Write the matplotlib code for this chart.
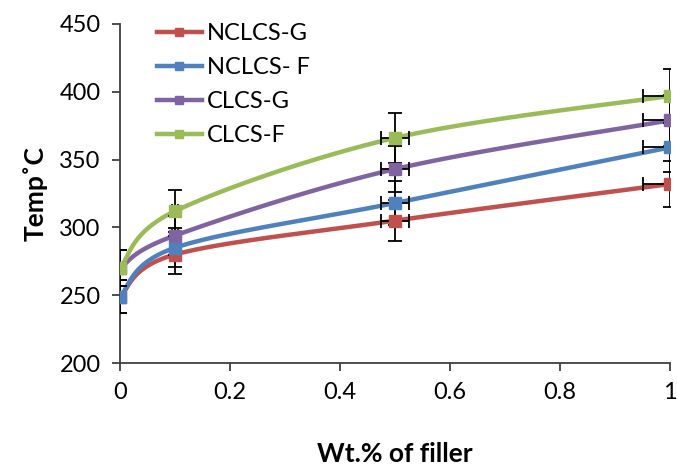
import matplotlib.pyplot as plt
import numpy as np

# Data
filler = [0, 0.1, 0.5, 1.0]
nclcs_g = [249, 280, 305, 332]
nclcs_f = [249, 285, 318, 359]
clcs_g = [270, 294, 343, 379]
clcs_f = [270, 312, 366, 397]

names = ['NCLCS-G', 'NCLCS- F', 'CLCS-G', 'CLCS-F']
colors = ['#C0504D', '#4F81BD', '#8064A2', '#9BBB59']

# error bars are 5 % of the value (both axes)
err_pct = 0.05

plt.rcParams['font.family'] = ['Lato', 'DejaVu Sans']


def smooth(x, y, n=40):
    # Excel-style smoothed line (Catmull-Rom as cubic Bezier)
    p = np.column_stack([x, y]).astype(float)
    p = np.vstack([p[0], p, p[-1]])
    out = []
    for i in range(1, len(p) - 2):
        p0, p1, p2, p3 = p[i - 1], p[i], p[i + 1], p[i + 2]
        c1 = p1 + (p2 - p0) / 6
        c2 = p2 - (p3 - p1) / 6
        t = np.linspace(0, 1, n)[:, None]
        seg = (1 - t) ** 3 * p1 + 3 * (1 - t) ** 2 * t * c1 + 3 * (1 - t) * t ** 2 * c2 + t ** 3 * p2
        out.append(seg)
    out = np.vstack(out)
    return out[:, 0], out[:, 1]


fig = plt.figure(figsize=(6.77, 4.66), dpi=100)
ax = fig.add_axes([120 / 677, 1 - 363 / 466, 550 / 677, 339 / 466])

for vals, name, c in zip([nclcs_g, nclcs_f, clcs_g, clcs_f], names, colors):
    xs, ys = smooth(filler, vals)
    ax.plot(xs, ys, color=c, lw=3.2, zorder=3)
    ax.errorbar(filler, vals,
                yerr=[v * err_pct for v in vals],
                xerr=[x * err_pct for x in filler],
                fmt='none', ecolor='black', elinewidth=1.3, capsize=5,
                capthick=1.3, zorder=4)
    ax.plot(filler, vals, 's', color=c, ms=9, zorder=5)
    ax.plot([], [], color=c, lw=3.2, marker='s', ms=6, label=name)

ax.set_xlim(0, 1)
ax.set_ylim(200, 450)
ax.set_xticks([0, 0.2, 0.4, 0.6, 0.8, 1])
ax.set_xticklabels(['0', '0.2', '0.4', '0.6', '0.8', '1'])
ax.set_yticks(range(200, 451, 50))

for s in ['top', 'right']:
    ax.spines[s].set_visible(False)
for s in ['left', 'bottom']:
    ax.spines[s].set_color('#404040')
    ax.spines[s].set_linewidth(1.3)
ax.tick_params(direction='out', length=6, width=1.3, color='#404040',
               labelsize=17, pad=8)

ax.set_ylabel('Temp˚C', fontsize=19, fontweight='bold', labelpad=8)
ax.set_xlabel('Wt.% of filler', fontsize=19, fontweight='bold', labelpad=28)

leg = ax.legend(loc='upper left', bbox_to_anchor=(0.05, 1.03), frameon=False,
                fontsize=17, handlelength=1.9, handletextpad=0.2,
                labelspacing=0.55, borderaxespad=0)

fig.savefig('out.png', dpi=100)
